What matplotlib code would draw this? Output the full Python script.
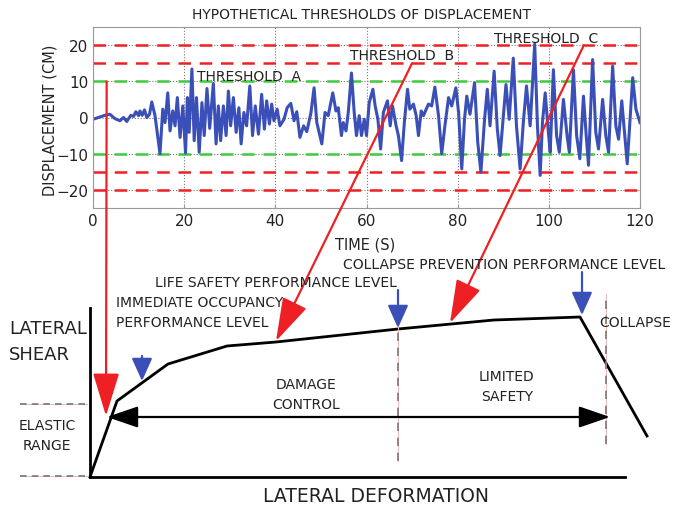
import matplotlib
matplotlib.use("Agg")
import matplotlib.pyplot as plt

plt.rcParams['font.family'] = ['DejaVu Sans']

# displacement record (time s, displacement cm)
time_s = [0, 2.6, 3.7, 4.8, 5.9, 6.7, 7.4, 8.3, 8.9, 9.4, 10, 10.3, 10.8, 11.3, 11.8, 12.4, 12.9, 13.6,
          14.7, 15.3, 15.8, 16.4, 16.9, 17.5, 18, 18.5, 19.1, 19.7, 20.3, 20.7, 21.1, 21.7, 22.2, 22.7,
          23.3, 23.9, 24.4, 25.0, 25.6, 26.4, 27, 27.5, 28, 28.6, 29.2, 29.7, 30.2, 30.8, 31.4, 32,
          32.5, 33.1, 33.7, 34.4, 35, 35.6, 36.3, 37, 37.6, 38.1, 38.7, 39.2, 39.7, 40.4, 41, 41.9,
          42.6, 43.4, 44.1, 44.7, 45.4, 46.2, 46.9, 47.8, 48.5, 49.1, 50.2, 50.9, 51.6, 52.6, 53.3,
          53.8, 54.5, 54.9, 55.5, 56, 56.7, 57.3, 57.8, 58.4, 58.9, 59.5, 60, 60.6, 61.4, 61.9, 62.5,
          63.1, 63.7, 64.6, 65.2, 65.7, 66.5, 67, 67.7, 68.3, 69, 69.5, 70.3, 70.9, 71.4, 72, 72.5,
          73.1, 73.6, 74.3, 75, 75.8, 76.5, 77.2, 78, 78.7, 79.6, 80.2, 80.9, 81.5, 82, 82.7, 83.7,
          84.4, 85.1, 85.9, 86.5, 87.1, 88, 88.7, 89.3, 89.9, 90.6, 91.3, 92.2, 92.9, 93.7, 94.4,
          95.1, 95.9, 96.9, 97.5, 98.1, 98.6, 99.2, 99.9, 100.3, 101, 101.7, 102.3, 103.2, 104,
          104.5, 105.4, 106.1, 106.8, 107.6, 108.2, 108.7, 109.6, 110.3, 110.9, 111.8, 112.5, 113.1,
          114, 114.7, 115.3, 116, 116.6, 117.2, 118.4, 119.1, 120]
disp_cm = [-0.5, 0.6, 0.9, -0.3, -0.9, 0, -1.1, 0.6, 0.3, 1.6, 0.5, 1.8, 0.6, 2.1, 0, 0.9, 4.3, 0.5,
           -10, 2.3, -1.4, 6.8, -3.7, 1.8, -2.3, 5.5, -5.5, 3.2, -9.8, 5.5, -4.1, 13.4, -6.4, 5.5,
           -9.6, 4.1, -5, 8.0, -3, 9.4, -7.3, 3.2, -6.4, 3.2, -5, 7.3, -2.3, 5.5, -4.1, 2.7,
           -7.3, 1.4, -2.3, 8.7, -5, 3.2, -4.6, 6.4, -3.2, 4.6, -1.8, 3.7, -0.9, 2.3, -2.3, -0.5,
           2.7, 3.9, -0.9, 1.6, -5.5, -2.3, -3.9, 1.2, 8.2, -1.4, -7.3, 1.4, 0.5, 6.8, 1.8,
           2.7, -5, -1.4, -3.7, 1.4, 12.3, 1.4, -5, 0.5, -5, -0.5, -5, 4.1, 7.8, 3.2, -0.5,
           -8.7, 1.4, 4.6, -2.3, 3.2, -2.3, -5, -11.9, -1.4, 7.8, 2.3, 3.7, 0.5, -5, 1.8, 0.5,
           2.3, 3.7, 3.2, 8.4, 0.5, -10, -2.3, 5.5, 3.2, 8.2, 1.4, -14.2, -0.5, 5.9, 0.9, 9.6,
           -6.8, -15.1, -0.5, 7.8, -2.3, 12.8, -3.2, -10.5, -1.4, 9.1, -0.5, 16.4, -2.3, -14.2, -1.4,
           8.7, -2.3, 20.3, -2.3, -16, -1.4, 6.8, -4.1, -9.6, 13.2, -5, -9.6, 5, -5,
           -9.6, 13.2, -5, -11.4, 5.9, -5, -13.2, 16, -4.1, -8.7, 5, -5, -9.6,
           14.2, -2.3, -6, 4.6, -4.1, -12.8, 11, 2.3, -1.4]

red_levels = [20, 15, -15, -20]
green_levels = [10, -10]
thresholds = ['THRESHOLD  A', 'THRESHOLD  B', 'THRESHOLD  C']
threshold_pos = [(22.8, 11.5), (56.4, 17.2), (88.0, 21.9)]

# pushover curve (arbitrary units)
deform = [0, 27, 78, 137, 186, 308, 404, 490, 557]
shear = [0, 76, 113, 131, 135, 148, 157, 160, 41]

RED = '#ee2024'
BLUE = '#3b4fb8'

fig = plt.figure(figsize=(6.86, 5.10), dpi=100)

# ---- top: displacement history
ax = fig.add_axes([93 / 686, 1 - 209 / 510, 547 / 686, 181 / 510])
ax.set_xlim(0, 120)
ax.set_ylim(-25, 25)
ax.set_xticks(range(0, 121, 20))
ax.set_yticks([-20, -10, 0, 10, 20])
ax.tick_params(labelsize=11, length=2, direction='in', colors='#999', labelcolor='#222')
ax.grid(True, color='#777', ls=':', lw=0.8)
for s in ax.spines.values():
    s.set_color('#999')
for y in red_levels:
    ax.axhline(y, color=RED, lw=1.8, dashes=(5, 3.5))
for y in green_levels:
    ax.axhline(y, color='#3fca3f', lw=1.8, dashes=(5, 3.5))
ax.plot(time_s, disp_cm, color=BLUE, lw=2.2, solid_joinstyle='round')
for label, (x, y) in zip(thresholds, threshold_pos):
    ax.text(x, y, label, fontsize=10, color='#222', va='center')

fig.text(361 / 686, 1 - 15 / 510, 'HYPOTHETICAL THRESHOLDS OF DISPLACEMENT',
         ha='center', va='center', fontsize=10, color='#222')
fig.text(50 / 686, 1 - 120 / 510, 'DISPLACEMENT (CM)', rotation=90,
         ha='center', va='center', fontsize=10.5, color='#222')
fig.text(365 / 686, 1 - 245 / 510, 'TIME (S)', ha='center', va='center',
         fontsize=10.5, color='#222')

# ---- bottom: capacity curve
ax2 = fig.add_axes([90 / 686, 32 / 510, 590 / 686, 216 / 510])
ax2.set_xlim(0, 590)
ax2.set_ylim(0, 216)
ax2.axis('off')

ax2.plot([0, 0], [0, 169], color='black', lw=2, clip_on=False)
ax2.plot([0, 535], [0, 0], color='black', lw=2, clip_on=False)
ax2.plot(deform, shear, color='black', lw=2, clip_on=False, solid_joinstyle='round')

for x, y0, y1 in [(308, 16, 186), (516, 33, 183)]:
    ax2.plot([x, x], [y0, y1], color='#f4b8b8', lw=0.7, clip_on=False)
    ax2.plot([x, x], [y0, y1], color='#777', lw=1.2, dashes=(5, 4), clip_on=False)
for y in [73, 1]:
    ax2.plot([-70, -3], [y, y], color='#f4b8b8', lw=0.7, clip_on=False)
    ax2.plot([-70, -3], [y, y], color='#777', lw=1.2, dashes=(4, 3), clip_on=False)

ax2.annotate('', xy=(17, 60), xytext=(520, 60),
             arrowprops=dict(arrowstyle='<|-|>,head_length=1.6,head_width=0.55',
                             color='black', lw=1.6, mutation_scale=12,
                             shrinkA=0, shrinkB=0), annotation_clip=False)

# blue performance-level arrows
for x, y0, y1 in [(52, 121, 96), (308, 187, 149), (492, 205, 162)]:
    ax2.annotate('', xy=(x, y1), xytext=(x, y0),
                 arrowprops=dict(arrowstyle='-|>,head_length=1.0,head_width=0.45',
                                 color=BLUE, lw=1.6, mutation_scale=14,
                                 shrinkA=0, shrinkB=0), annotation_clip=False)

# red arrows from thresholds to curve
for (tx, ty), (bx, by) in zip([(3, 10), (70, 15), (107.5, 19.5)],
                              [(16, 61), (186, 136), (360, 154)]):
    ax2.annotate('', xy=(bx, by), xycoords='data', xytext=(tx, ty), textcoords=ax.transData,
                 arrowprops=dict(arrowstyle='-|>,head_length=1.8,head_width=0.55',
                                 color=RED, lw=1.6, mutation_scale=15,
                                 shrinkA=0, shrinkB=0), annotation_clip=False)

kw = dict(color='#222', fontsize=10)
ax2.text(-81, 136, 'LATERAL\nSHEAR', ha='left', va='center', fontsize=13,
         linespacing=1.5, color='#222')
ax2.text(-43, 42, 'ELASTIC\nRANGE', ha='center', va='center', linespacing=1.5, **kw)
ax2.text(26, 165, 'IMMEDIATE OCCUPANCY\nPERFORMANCE LEVEL', ha='left', va='center',
         linespacing=1.5, **kw)
ax2.text(65, 195, 'LIFE SAFETY PERFORMANCE LEVEL', ha='left', va='center', **kw)
ax2.text(253, 213, 'COLLAPSE PREVENTION PERFORMANCE LEVEL', ha='left', va='center', **kw)
ax2.text(509, 155, 'COLLAPSE', ha='left', va='center', **kw)
ax2.text(216, 83, 'DAMAGE\nCONTROL', ha='center', va='center', linespacing=1.5, **kw)
ax2.text(417, 91, 'LIMITED\nSAFETY', ha='center', va='center', linespacing=1.5, **kw)
ax2.text(286, -19, 'LATERAL DEFORMATION', ha='center', va='center', fontsize=13.5,
         color='#222')

fig.savefig('out.png', dpi=100)
